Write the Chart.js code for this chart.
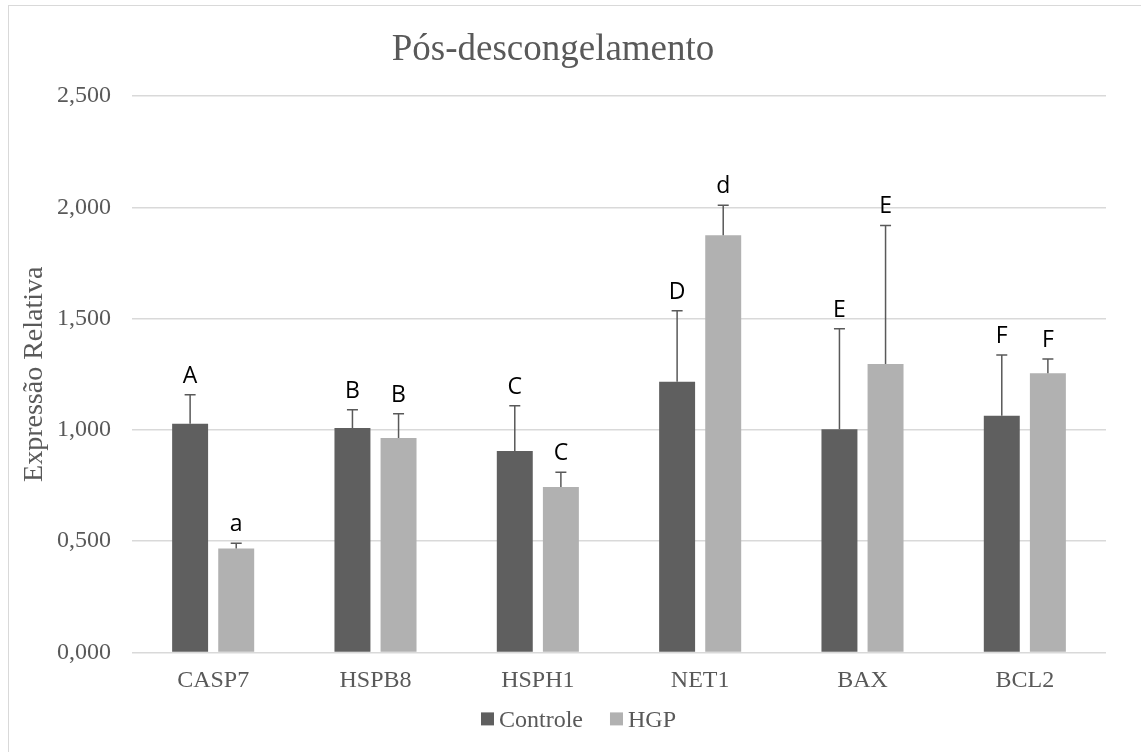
<!DOCTYPE html>
<html>
<head>
<meta charset="utf-8">
<script src="https://cdn.jsdelivr.net/npm/chart.js@4/dist/chart.umd.min.js"></script>
<style>
  html, body { margin: 0; padding: 0; background: #fff; overflow: hidden; }
  #wrap { position: relative; width: 1141px; height: 752px; }
  #frame { position: absolute; left: 8px; top: 5px; width: 1200px; height: 800px; border: 1px solid #d9d9d9; box-sizing: border-box; pointer-events: none; }
  canvas { position: absolute; left: 0; top: 0; }
</style>
</head>
<body>
<div id="wrap">
  <canvas id="chartExpr" width="1141" height="752"></canvas>
  <div id="frame"></div>
</div>
<script>
// Dados
const genes = ['CASP7', 'HSPB8', 'HSPH1', 'NET1', 'BAX', 'BCL2'];
const controle = [1.027, 1.009, 0.905, 1.216, 1.003, 1.063];
const controleErro = [0.131, 0.081, 0.203, 0.319, 0.451, 0.273];
const hgp = [0.467, 0.964, 0.743, 1.875, 1.296, 1.255];
const hgpErro = [0.024, 0.109, 0.067, 0.134, 0.623, 0.063];
const letrasControle = ['A', 'B', 'C', 'D', 'E', 'F'];
const letrasHgp = ['a', 'B', 'C', 'd', 'E', 'F'];
const yTicks = [0, 0.5, 1, 1.5, 2, 2.5];

const errors = [controleErro, hgpErro];
const letters = [letrasControle, letrasHgp];

const serif = '"Liberation Serif", "Times New Roman", serif';
const gray = '#595959';

// Barras de erro (só para cima) e letras de significância
const errorBarsPlugin = {
  id: 'errorBars',
  afterDatasetsDraw(chart) {
    const ctx = chart.ctx;
    const yScale = chart.scales.y;
    ctx.save();
    chart.data.datasets.forEach((ds, i) => {
      const meta = chart.getDatasetMeta(i);
      meta.data.forEach((bar, j) => {
        const yBase = yScale.getPixelForValue(ds.data[j]);
        const yTop = yScale.getPixelForValue(ds.data[j] + errors[i][j]);
        ctx.strokeStyle = '#595959';
        ctx.lineWidth = 1.5;
        ctx.beginPath();
        ctx.moveTo(bar.x, yBase);
        ctx.lineTo(bar.x, yTop);
        ctx.moveTo(bar.x - 5.5, yTop);
        ctx.lineTo(bar.x + 5.5, yTop);
        ctx.stroke();

        ctx.fillStyle = '#000';
        ctx.font = '23px "Open Sans"';
        ctx.textAlign = 'center';
        ctx.textBaseline = 'alphabetic';
        ctx.fillText(letters[i][j], bar.x, yTop - 12);
      });
    });
    ctx.restore();
  }
};

// Legenda no estilo do Excel (quadrado colado ao texto)
const legendPlugin = {
  id: 'excelLegend',
  afterDraw(chart) {
    const ctx = chart.ctx;
    const box = 13, gapText = 5, gapItem = 27;
    ctx.save();
    ctx.font = '24px ' + serif;
    const items = chart.data.datasets.map(ds => ({
      text: ds.label,
      color: ds.backgroundColor,
      w: box + gapText + ctx.measureText(ds.label).width
    }));
    const total = items.reduce((s, it) => s + it.w, 0) + gapItem * (items.length - 1);
    let x = (chart.width + 16) / 2 - total / 2;
    const yMid = chart.chartArea.bottom + 66.5;
    items.forEach(it => {
      ctx.fillStyle = it.color;
      ctx.fillRect(x, yMid - box / 2, box, box);
      ctx.fillStyle = gray;
      ctx.textAlign = 'left';
      ctx.textBaseline = 'alphabetic';
      ctx.fillText(it.text, x + box + gapText, yMid + 8.5);
      x += it.w + gapItem;
    });
    ctx.restore();
  }
};

new Chart(document.getElementById('chartExpr').getContext('2d'), {
  type: 'bar',
  data: {
    labels: genes,
    datasets: [
      {
        label: 'Controle',
        data: controle,
        backgroundColor: '#5f5f5f',
        categoryPercentage: 0.568,
        barPercentage: 0.78
      },
      {
        label: 'HGP',
        data: hgp,
        backgroundColor: '#b1b1b1',
        categoryPercentage: 0.568,
        barPercentage: 0.78
      }
    ]
  },
  options: {
    responsive: false,
    animation: false,
    devicePixelRatio: 1,
    layout: {
      padding: { left: 0, right: 35, top: 0, bottom: 42.8 }
    },
    plugins: {
      title: {
        display: true,
        text: 'Pós-descongelamento',
        color: gray,
        font: { family: serif, size: 37, weight: 'normal' },
        padding: { top: 28.5, bottom: 23.2 }
      },
      legend: { display: false },
      tooltip: { enabled: false }
    },
    scales: {
      x: {
        grid: { display: false, drawTicks: false },
        border: { display: false },
        ticks: {
          color: gray,
          font: { family: serif, size: 24 },
          padding: 14
        }
      },
      y: {
        min: 0,
        max: 2.5,
        afterFit(scale) { scale.width = 132; },
        afterBuildTicks(scale) { scale.ticks = yTicks.map(v => ({ value: v })); },
        grid: { color: '#d9d9d9', lineWidth: 1.5, drawTicks: false },
        border: { display: false },
        ticks: {
          color: gray,
          font: { family: serif, size: 24 },
          padding: 21,
          callback: v => v.toFixed(3).replace('.', ',')
        },
        title: {
          display: true,
          text: 'Expressão Relativa',
          color: gray,
          font: { family: serif, size: 28 },
          padding: { top: 18, bottom: 0 }
        }
      }
    }
  },
  plugins: [errorBarsPlugin, legendPlugin]
});
</script>
</body>
</html>
